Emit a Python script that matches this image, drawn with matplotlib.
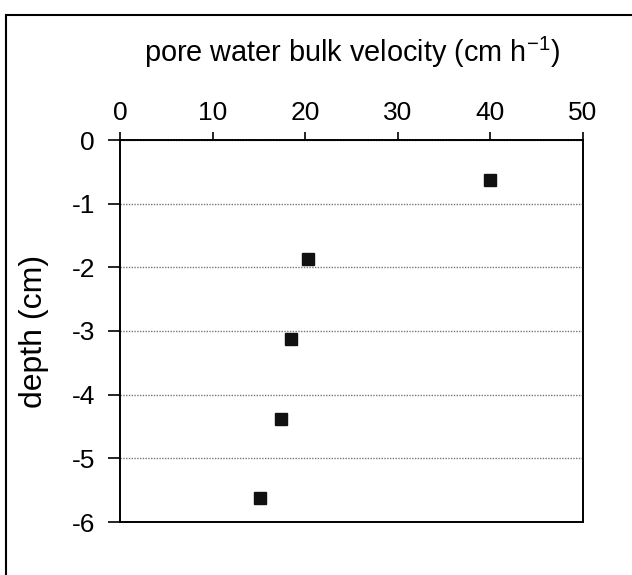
import matplotlib
matplotlib.use("Agg")
import matplotlib.pyplot as plt
from matplotlib.patches import Rectangle

plt.rcParams['font.family'] = ['Liberation Sans', 'DejaVu Sans']
plt.rcParams['mathtext.fontset'] = 'custom'
plt.rcParams['mathtext.rm'] = 'Liberation Sans'
plt.rcParams['mathtext.default'] = 'regular'
plt.rcParams['axes.unicode_minus'] = False

# data
velocity = [40.0, 20.3, 18.5, 17.4, 15.1]        # cm h^-1
depth = [-0.625, -1.875, -3.125, -4.375, -5.625]  # cm
x_ticks = [0, 10, 20, 30, 40, 50]
y_ticks = [0, -1, -2, -3, -4, -5, -6]

W, H = 632, 575
fig = plt.figure(figsize=(W / 100, H / 100), dpi=100)
ax = fig.add_axes([120 / W, 1 - 522 / H, (583 - 120) / W, (522 - 140) / H])

ax.plot(velocity, depth, linestyle='none', marker='s', markersize=8,
        color='#111111', markeredgecolor='#111111')

ax.set_xlim(0, 50)
ax.set_ylim(-6, 0)
ax.set_xticks(x_ticks)
ax.set_yticks(y_ticks)
ax.set_yticklabels([str(v) for v in y_ticks])

ax.xaxis.tick_top()
ax.xaxis.set_label_position('top')
ax.tick_params(axis='x', direction='out', length=6, width=1.2, pad=5,
               labelsize=19, colors='black')
ax.tick_params(axis='y', direction='out', length=9, width=1.2, pad=9,
               labelsize=19, colors='black')

ax.yaxis.grid(True, linestyle=(0, (1, 1)), color='#777777', linewidth=1.0)
ax.xaxis.grid(False)

for s in ax.spines.values():
    s.set_linewidth(1.4)
    s.set_color('black')

ax.set_xlabel('pore water bulk velocity (cm h$^{-1}$)', fontsize=20.8, labelpad=28)
ax.set_ylabel('depth (cm)', fontsize=23, labelpad=16)

# outer chart border
fig.patches.append(Rectangle((6 / W, -0.05), 1.1, 1.05 - 15 / H,
                             transform=fig.transFigure, fill=False,
                             edgecolor='black', linewidth=1.5, clip_on=False))

fig.savefig('out.png', dpi=100)
